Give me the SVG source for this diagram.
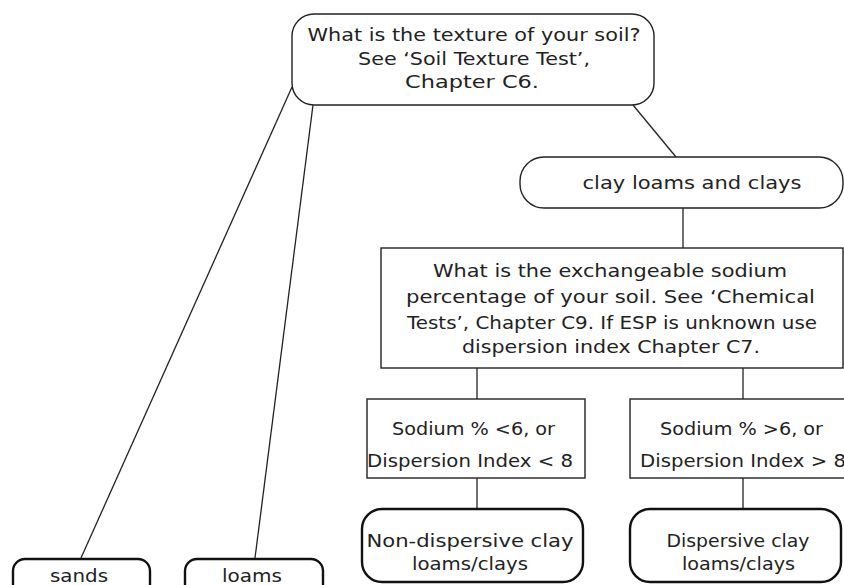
<svg xmlns="http://www.w3.org/2000/svg" width="844" height="585" viewBox="0 0 844 585">
<style>
  text { font-family: "DejaVu Sans", "Liberation Sans", sans-serif; font-size: 17px; fill: #222; text-anchor: middle; }
  .box { fill: #fff; stroke: #222; stroke-width: 1.4; }
  .leaf { fill: #fff; stroke: #111; stroke-width: 2.4; }
  .conn { stroke: #222; stroke-width: 1.3; fill: none; }
</style>
<rect width="844" height="585" fill="#fff"/>
<g id="connectors">
  <line class="conn" x1="292" y1="87" x2="81" y2="558"/>
  <line class="conn" x1="313" y1="105" x2="255" y2="558"/>
  <line class="conn" x1="633" y1="105" x2="676" y2="157"/>
  <line class="conn" x1="683" y1="208" x2="683" y2="248"/>
  <line class="conn" x1="477" y1="368" x2="477" y2="399"/>
  <line class="conn" x1="743" y1="368" x2="743" y2="399"/>
  <line class="conn" x1="477" y1="478" x2="477" y2="509"/>
  <line class="conn" x1="743" y1="478" x2="743" y2="509"/>
</g>
<g id="texture">
  <rect class="box" x="292" y="14" width="362" height="91" rx="22"/>
  <text x="474" y="41" textLength="333" lengthAdjust="spacingAndGlyphs">What is the texture of your soil?</text>
  <text x="474" y="65" textLength="232" lengthAdjust="spacingAndGlyphs">See ‘Soil Texture Test’,</text>
  <text x="472" y="88" textLength="134" lengthAdjust="spacingAndGlyphs">Chapter C6.</text>
</g>
<g id="clay">
  <rect class="box" x="520" y="157" width="323" height="51" rx="24"/>
  <text x="692" y="189" textLength="219" lengthAdjust="spacingAndGlyphs">clay loams and clays</text>
</g>
<g id="esp">
  <rect class="box" x="381" y="248" width="462" height="120"/>
  <text x="610" y="277" textLength="354" lengthAdjust="spacingAndGlyphs">What is the exchangeable sodium</text>
  <text x="610.5" y="303" textLength="409" lengthAdjust="spacingAndGlyphs">percentage of your soil. See ‘Chemical</text>
  <text x="612" y="329" textLength="410" lengthAdjust="spacingAndGlyphs">Tests’, Chapter C9. If ESP is unknown use</text>
  <text x="611" y="353" textLength="298" lengthAdjust="spacingAndGlyphs">dispersion index Chapter C7.</text>
</g>
<g id="low">
  <rect class="box" x="367" y="399" width="218" height="79"/>
  <text x="473.5" y="435" textLength="163" lengthAdjust="spacingAndGlyphs">Sodium % &lt;6, or</text>
  <text x="470" y="467" textLength="206" lengthAdjust="spacingAndGlyphs">Dispersion Index &lt; 8</text>
</g>
<g id="high">
  <rect class="box" x="630" y="399" width="230" height="79"/>
  <text x="741.5" y="435" textLength="163" lengthAdjust="spacingAndGlyphs">Sodium % &gt;6, or</text>
  <text x="743" y="467" textLength="206" lengthAdjust="spacingAndGlyphs">Dispersion Index &gt; 8</text>
</g>
<g id="nondispersive">
  <rect class="leaf" x="362" y="509" width="221" height="73" rx="20"/>
  <text x="470" y="547" textLength="207" lengthAdjust="spacingAndGlyphs">Non-dispersive clay</text>
  <text x="470" y="570" textLength="116" lengthAdjust="spacingAndGlyphs">loams/clays</text>
</g>
<g id="dispersive">
  <rect class="leaf" x="630" y="509" width="211" height="73" rx="20"/>
  <text x="738" y="547" textLength="143" lengthAdjust="spacingAndGlyphs">Dispersive clay</text>
  <text x="738.5" y="570" textLength="113" lengthAdjust="spacingAndGlyphs">loams/clays</text>
</g>
<g id="sands">
  <rect class="leaf" x="13" y="559" width="137" height="40" rx="12"/>
  <text x="79" y="582" textLength="58" lengthAdjust="spacingAndGlyphs">sands</text>
</g>
<g id="loams">
  <rect class="leaf" x="185" y="559" width="138" height="40" rx="12"/>
  <text x="252" y="582" textLength="60" lengthAdjust="spacingAndGlyphs">loams</text>
</g>
</svg>
